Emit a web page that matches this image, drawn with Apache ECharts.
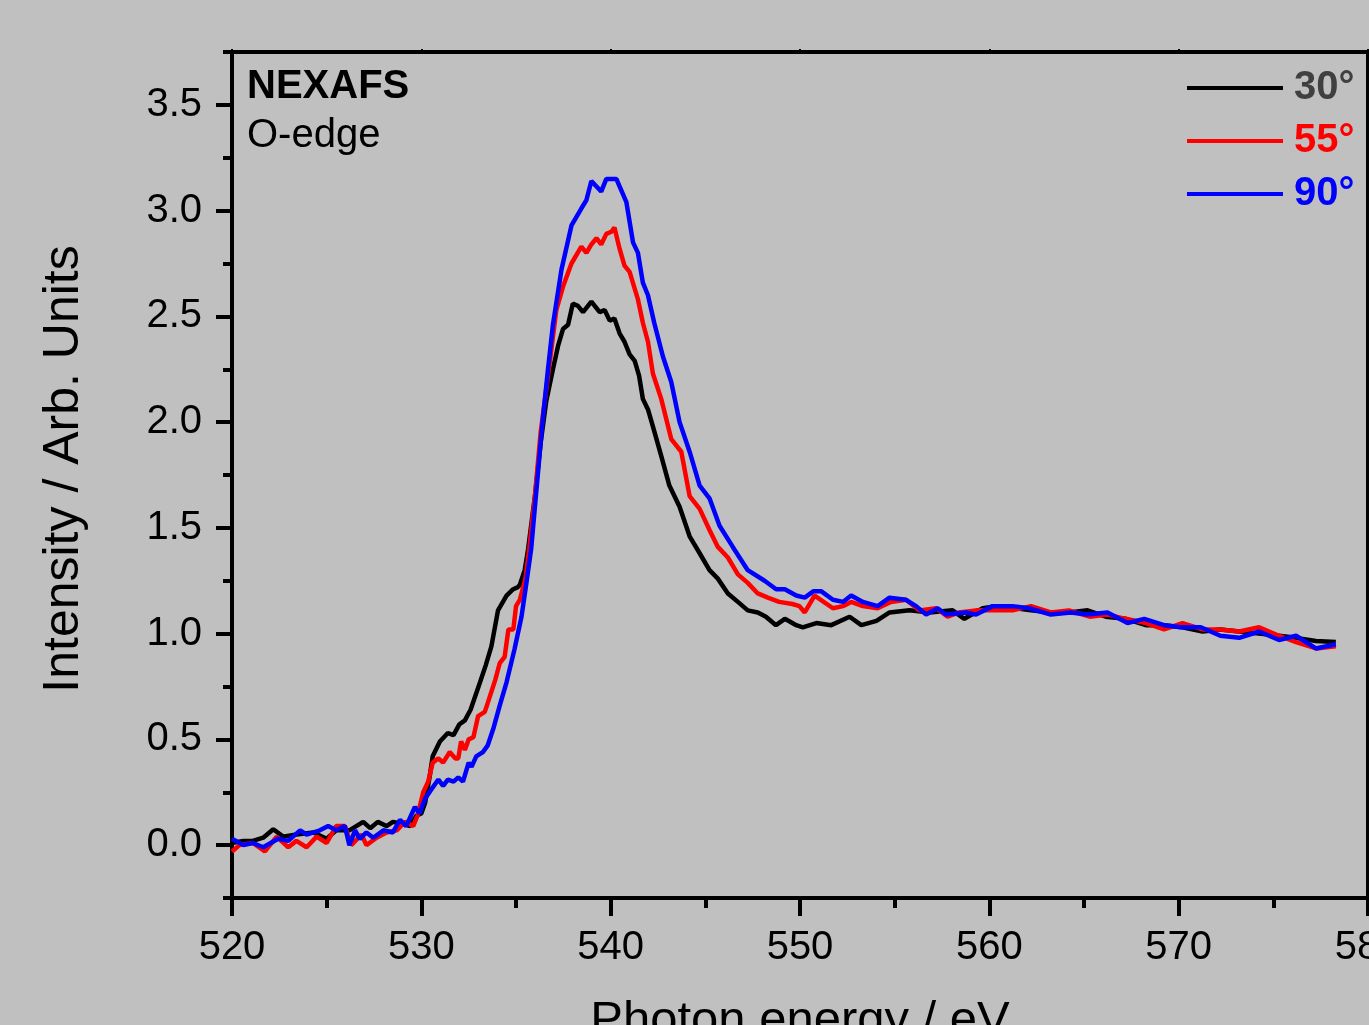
<!DOCTYPE html>
<html>
<head>
<meta charset="utf-8">
<script src="https://cdn.jsdelivr.net/npm/echarts@6/dist/echarts.min.js"></script>
<style>
html,body{margin:0;padding:0;background:#c0c0c0;}
#chart{width:1369px;height:1025px;}
</style>
</head>
<body>
<div id="chart"></div>
<script>
// ---- data ----
const seriesNames = ['30°', '55°', '90°'];

const energy30 = [520.0,520.6,521.1,521.65,522.18,522.7,523.4,524.3,525.0,525.5,526.2,526.93,527.3,527.7,528.16,528.5,529.05,529.4,529.75,530.0,530.2,530.45,530.6,530.98,531.4,531.7,532.0,532.3,532.6,533.1,533.4,533.7,534.05,534.5,534.85,535.1,535.2,535.46,535.64,536.0,536.3,536.6,536.95,537.22,537.48,537.75,538.0,538.27,538.54,538.98,539.42,539.68,539.95,540.2,540.47,540.73,541.0,541.27,541.5,541.7,541.97,542.23,542.67,543.1,543.64,544.17,544.7,545.22,545.66,546.19,546.72,547.24,547.77,548.2,548.73,549.2,549.8,550.15,550.86,551.65,552.62,553.24,554.04,554.73,555.78,556.84,558.06,558.68,559.65,560.35,561.4,562.2,563.25,564.2,565.19,566.15,567.2,568.27,569.23,570.2,571.27,572.2,573.2,574.25,575.3,576.2,577.25,578.3];
const intensity30 = [0.01,0.02,0.02,0.035,0.075,0.04,0.05,0.06,0.03,0.07,0.07,0.11,0.08,0.11,0.09,0.11,0.10,0.09,0.14,0.15,0.20,0.33,0.42,0.49,0.53,0.52,0.57,0.59,0.64,0.77,0.85,0.94,1.11,1.18,1.21,1.22,1.23,1.30,1.40,1.65,1.90,2.10,2.25,2.36,2.44,2.46,2.56,2.55,2.52,2.57,2.52,2.53,2.48,2.49,2.42,2.38,2.32,2.29,2.22,2.11,2.06,1.98,1.84,1.70,1.60,1.46,1.38,1.30,1.26,1.19,1.15,1.11,1.10,1.08,1.04,1.07,1.04,1.03,1.05,1.04,1.08,1.04,1.06,1.10,1.11,1.10,1.11,1.07,1.12,1.13,1.12,1.11,1.10,1.10,1.11,1.08,1.07,1.04,1.04,1.03,1.01,1.02,1.01,1.00,0.99,0.98,0.965,0.96];

const energy55 = [520.0,520.4,521.1,521.74,522.36,522.97,523.4,523.94,524.47,525.0,525.5,525.96,526.3,526.84,527.1,527.64,528.16,528.7,529.13,529.57,529.8,530.1,530.36,530.6,530.9,531.15,531.5,531.8,531.95,532.1,532.3,532.5,532.75,533.0,533.35,533.5,533.9,534.14,534.4,534.6,534.86,535.0,535.2,535.5,535.7,536.0,536.3,536.69,537.13,537.48,537.93,538.45,538.72,538.98,539.25,539.5,539.77,540.04,540.2,540.47,540.73,541.0,541.44,541.7,541.97,542.23,542.67,543.2,543.73,544.17,544.7,545.22,545.66,546.19,546.72,547.24,547.77,548.3,548.9,549.6,549.97,550.25,550.77,551.74,552.27,552.7,553.32,554.1,554.8,555.6,556.3,557.2,557.8,558.4,559.3,560.18,561.23,562.2,563.25,564.2,565.3,566.24,567.2,568.27,569.23,570.2,571.27,572.2,573.2,574.25,575.3,576.2,577.25,578.3];
const intensity55 = [-0.03,0.0,0.01,-0.03,0.04,-0.01,0.02,-0.01,0.04,0.01,0.09,0.09,0.0,0.05,0.0,0.035,0.06,0.07,0.11,0.09,0.14,0.25,0.30,0.39,0.41,0.39,0.44,0.41,0.41,0.49,0.45,0.50,0.51,0.61,0.63,0.67,0.78,0.86,0.89,1.02,1.02,1.13,1.16,1.26,1.40,1.65,1.95,2.22,2.53,2.64,2.75,2.83,2.80,2.84,2.87,2.84,2.89,2.90,2.92,2.82,2.74,2.71,2.58,2.47,2.38,2.23,2.11,1.92,1.86,1.65,1.59,1.49,1.41,1.36,1.28,1.24,1.19,1.17,1.15,1.14,1.13,1.10,1.18,1.12,1.13,1.15,1.13,1.12,1.15,1.16,1.11,1.12,1.08,1.10,1.11,1.11,1.11,1.13,1.10,1.11,1.08,1.09,1.07,1.05,1.02,1.05,1.02,1.02,1.01,1.03,0.99,0.96,0.93,0.94];

const energy90 = [520.0,520.6,521.1,521.65,522.44,522.97,523.6,523.94,524.64,525.08,525.5,525.96,526.2,526.5,526.75,527.1,527.46,528.0,528.5,528.87,529.2,529.66,529.9,530.2,530.5,530.9,531.15,531.4,531.7,531.95,532.2,532.5,532.65,532.9,533.25,533.5,533.8,534.14,534.5,534.93,535.29,535.55,535.8,536.1,536.4,536.69,536.95,537.4,537.93,538.45,538.72,538.98,539.5,539.77,540.3,540.83,541.18,541.44,541.7,541.97,542.3,542.76,543.2,543.64,544.17,544.7,545.22,545.75,546.45,547.24,548.13,548.74,549.2,549.8,550.25,550.7,551.13,551.74,552.27,552.7,553.32,554.1,554.73,555.6,556.13,556.66,557.27,557.7,558.76,559.3,560.18,561.23,562.1,563.25,564.3,565.19,566.24,567.3,568.18,569.23,570.1,571.17,572.2,573.2,574.25,575.3,576.2,577.25,578.3];
const intensity90 = [0.03,0.0,0.01,-0.01,0.03,0.02,0.07,0.05,0.07,0.09,0.07,0.09,0.0,0.07,0.03,0.06,0.035,0.07,0.06,0.12,0.09,0.18,0.15,0.22,0.26,0.31,0.28,0.31,0.30,0.32,0.30,0.39,0.37,0.42,0.44,0.47,0.55,0.66,0.77,0.93,1.08,1.24,1.40,1.70,2.00,2.25,2.46,2.72,2.93,3.01,3.05,3.14,3.09,3.15,3.15,3.04,2.85,2.80,2.66,2.60,2.47,2.31,2.19,2.00,1.86,1.70,1.64,1.51,1.41,1.30,1.25,1.21,1.21,1.18,1.17,1.20,1.20,1.16,1.15,1.18,1.15,1.13,1.17,1.16,1.13,1.09,1.12,1.09,1.10,1.09,1.13,1.13,1.12,1.09,1.10,1.09,1.10,1.05,1.07,1.04,1.03,1.03,0.99,0.98,1.01,0.97,0.99,0.93,0.95];

const xMin = 520, xMax = 580, xStep = 10;
const yMin = -0.25, yMax = 3.75;
const yTickLabels = [0, 0.5, 1.0, 1.5, 2.0, 2.5, 3.0, 3.5];
const yMinorTicks = [-0.25, 0.25, 0.75, 1.25, 1.75, 2.25, 2.75, 3.25, 3.75];

// ---- chart ----
const FONT = '"Liberation Sans", Arial, sans-serif';
const colors = ['#000000', '#ff0000', '#0000ff'];
const legendTextColors = ['#404040', '#ff0000', '#0000ff'];
const lineStyleAxis = { color: '#000', width: 4 };

function zip(xs, ys) { return xs.map((x, i) => [x, ys[i]]); }
const seriesData = [zip(energy30, intensity30), zip(energy55, intensity55), zip(energy90, intensity90)];

const chart = echarts.init(document.getElementById('chart'), null, { renderer: 'canvas' });
const option = {
  backgroundColor: '#c0c0c0',
  animation: false,
  textStyle: { fontFamily: FONT },
  grid: { left: 232, right: 1, top: 52, bottom: 127, containLabel: false, outerBoundsMode: 'none' },
  legend: {
    orient: 'vertical',
    left: 1187,
    top: 68,
    padding: 0,
    itemWidth: 96,
    itemHeight: 4,
    itemGap: 13,
    icon: 'rect',
    textStyle: { fontSize: 40, fontWeight: 'bold', fontFamily: FONT, padding: [0, 0, 0, 6] },
    data: seriesNames.map((n, i) => ({ name: n, icon: 'rect', itemStyle: { color: colors[i] }, textStyle: { color: legendTextColors[i] } }))
  },
  xAxis: [
    {
      type: 'value', min: xMin, max: xMax, interval: xStep, position: 'bottom',
      axisLine: { show: true, onZero: false, lineStyle: lineStyleAxis },
      axisTick: { show: true, inside: false, length: 18, lineStyle: lineStyleAxis },
      minorTick: { show: true, splitNumber: 2, length: 10, lineStyle: lineStyleAxis },
      splitLine: { show: false },
      axisLabel: { fontSize: 40, color: '#000', margin: 30, fontFamily: FONT, hideOverlap: false },
      name: 'Photon energy / eV', nameLocation: 'middle', nameGap: 99,
      nameTextStyle: { fontSize: 49, color: '#000', fontFamily: FONT }
    },
    {
      type: 'value', min: xMin, max: xMax, interval: xStep, position: 'top',
      axisLine: { show: true, onZero: false, lineStyle: lineStyleAxis },
      axisTick: { show: true, inside: false, length: 3, lineStyle: { color: '#000', width: 2 } },
      axisLabel: { show: false }, splitLine: { show: false }
    }
  ],
  yAxis: [
    {
      type: 'value', min: yMin, max: yMax, interval: 0.25, position: 'left',
      axisLine: { show: true, onZero: false, lineStyle: lineStyleAxis },
      axisTick: { show: true, inside: false, length: 16, customValues: yTickLabels, lineStyle: lineStyleAxis },
      axisLabel: { customValues: yTickLabels, formatter: v => Number(v).toFixed(1), fontSize: 40, color: '#000', margin: 30, fontFamily: FONT },
      splitLine: { show: false },
      name: 'Intensity / Arb. Units', nameLocation: 'middle', nameGap: 143,
      nameTextStyle: { fontSize: 50, color: '#000', fontFamily: FONT, padding: [0, 0, 0, 12] }
    },
    {
      type: 'value', min: yMin, max: yMax, interval: 0.25, position: 'left',
      axisLine: { show: false },
      axisTick: { show: true, inside: false, length: 9, customValues: yMinorTicks, lineStyle: lineStyleAxis },
      axisLabel: { show: false }, splitLine: { show: false }
    },
    {
      type: 'value', min: yMin, max: yMax, interval: 0.25, position: 'right',
      axisLine: { show: true, onZero: false, lineStyle: lineStyleAxis },
      axisTick: { show: false }, axisLabel: { show: false }, splitLine: { show: false }
    }
  ],
  graphic: [
    { type: 'text', left: 247, top: 67, style: { text: 'NEXAFS', font: 'bold 40px ' + FONT, fill: '#000' } },
    { type: 'text', left: 247, top: 116, style: { text: 'O-edge', font: '40px ' + FONT, fill: '#000' } }
  ],
  series: seriesNames.map((n, i) => ({
    name: n, type: 'line', xAxisIndex: 0, yAxisIndex: 0,
    data: seriesData[i], symbol: 'none', smooth: false,
    lineStyle: { color: colors[i], width: 4.5 }, itemStyle: { color: colors[i] },
    z: 2 + i
  }))
};
chart.setOption(option);
</script>
</body>
</html>
